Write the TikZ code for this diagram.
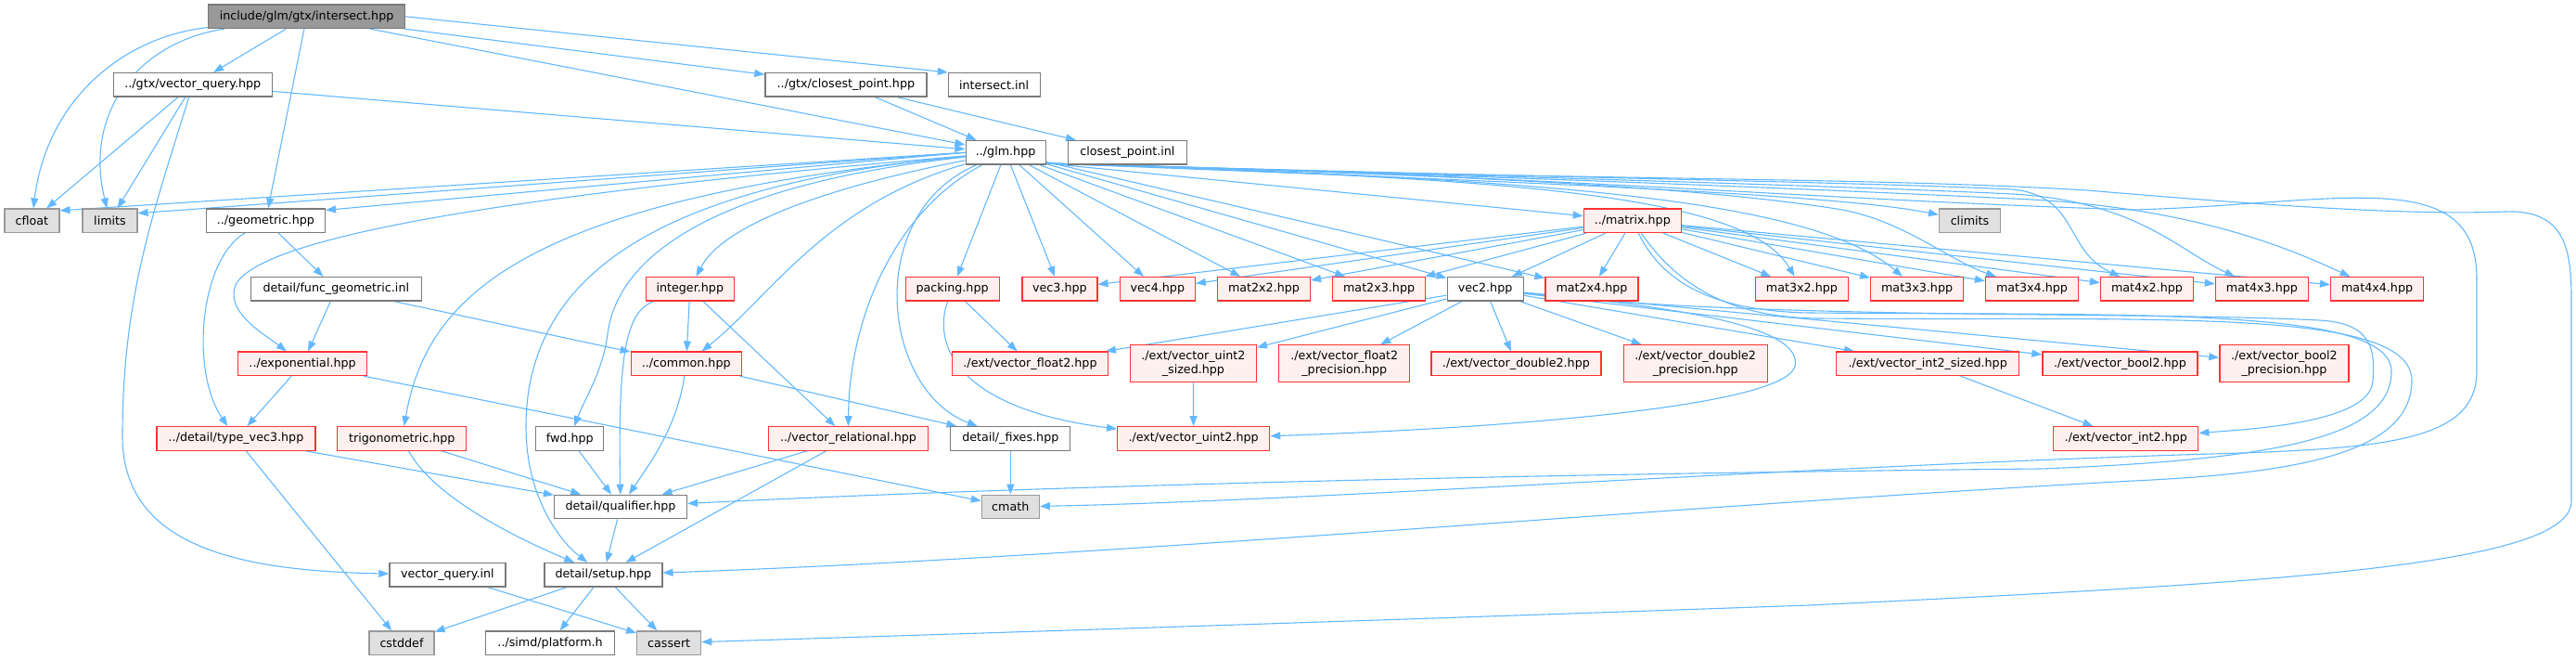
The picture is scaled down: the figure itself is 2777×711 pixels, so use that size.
\documentclass[tikz,border=0pt]{standalone}
\usepackage{fontspec}
\setmainfont{DejaVu Sans}
\usepackage{tikz}
\usetikzlibrary{arrows.meta, backgrounds}

\definecolor{edgeblue}{HTML}{63B8FF}
\definecolor{truncfill}{HTML}{FFF0F0}
\definecolor{truncline}{HTML}{FF3333}
\definecolor{sysfill}{HTML}{E0E0E0}
\definecolor{greyforty}{HTML}{7A7A7A}
\definecolor{greysixty}{HTML}{999999}

\begin{document}
\begin{tikzpicture}[
    x=1pt, y=-1pt,
    font=\fontsize{12.7pt}{15pt}\selectfont,
    filebox/.style={rectangle, draw=greyforty, fill=white, line width=1.2pt, inner sep=0pt, minimum height=25.5pt, align=center},
    truncbox/.style={filebox, draw=truncline, fill=truncfill},
    tallbox/.style={truncbox, minimum height=40pt},
    sysbox/.style={filebox, draw=greysixty, fill=sysfill},
    rootbox/.style={filebox, draw=greyforty, fill=greysixty},
    dep/.style={draw=edgeblue, line width=1.1pt, -{Triangle[length=11pt,width=8pt]}}
]
\useasboundingbox (0,0) rectangle (2777,711);

% =============================================================
% Files (rows from top to bottom)
% =============================================================
\node[rootbox, minimum width=212pt] (root) at (330.6,17.8) {include/glm/gtx/intersect.hpp};

\node[filebox, minimum width=171pt] (vq) at (207.8,91.3) {../gtx/vector\_query.hpp};
\node[filebox, minimum width=174pt] (cp) at (911.9,91.3) {../gtx/closest\_point.hpp};
\node[filebox, minimum width=99pt] (inl) at (1071.7,91.3) {intersect.inl};

\node[filebox, minimum width=86pt] (glm) at (1084.1,164.3) {../glm.hpp};
\node[filebox, minimum width=128pt] (cpinl) at (1215.4,164.3) {closest\_point.inl};

\node[sysbox, minimum width=59pt] (cfloat) at (34.4,237.8) {cfloat};
\node[sysbox, minimum width=59pt] (limits) at (118.5,237.8) {limits};
\node[filebox, minimum width=128pt] (geo) at (286.4,237.8) {../geometric.hpp};
\node[truncbox, minimum width=105pt] (matrix) at (1759.8,237.8) {../matrix.hpp};
\node[sysbox, minimum width=66pt] (climits) at (2123.5,237.8) {climits};

\node[filebox, minimum width=184pt] (fgeo) at (362.3,311.3) {detail/func\_geometric.inl};
\node[truncbox, minimum width=95pt] (integer) at (743.8,311.3) {integer.hpp};
\node[truncbox, minimum width=101pt] (packing) at (1026.6,311.3) {packing.hpp};
\node[truncbox, minimum width=81pt] (vec3) at (1142.4,311.3) {vec3.hpp};
\node[truncbox, minimum width=81pt] (vec4) at (1247.8,311.3) {vec4.hpp};
\node[filebox, minimum width=82pt] (vec2) at (1601.1,311.3) {vec2.hpp};
\foreach \n/\x in {2x2/1362.5, 2x3/1486.6, 2x4/1716, 3x2/1942.4, 3x3/2066.6, 3x4/2190.5, 4x2/2314.5, 4x3/2438.4, 4x4/2562.6}
  \node[truncbox, minimum width=100pt] (m\n) at (\x,311.3) {mat\n.hpp};

\node[truncbox, minimum width=139pt] (expo) at (326.1,391.8) {../exponential.hpp};
\node[truncbox, minimum width=119pt] (common) at (739.7,391.8) {../common.hpp};
\node[truncbox, minimum width=168pt] (vf2) at (1110.5,391.8) {./ext/vector\_float2.hpp};
\node[tallbox, minimum width=136pt] (vu2s) at (1286.4,391.8) {./ext/vector\_uint2\\\_sized.hpp};
\node[tallbox, minimum width=141pt] (vf2p) at (1449.3,391.8) {./ext/vector\_float2\\\_precision.hpp};
\node[truncbox, minimum width=183pt] (vd2) at (1634.4,391.8) {./ext/vector\_double2.hpp};
\node[tallbox, minimum width=155pt] (vd2p) at (1827.7,391.8) {./ext/vector\_double2\\\_precision.hpp};
\node[truncbox, minimum width=197pt] (vi2s) at (2078.2,391.8) {./ext/vector\_int2\_sized.hpp};
\node[truncbox, minimum width=167pt] (vb2) at (2285.4,391.8) {./ext/vector\_bool2.hpp};
\node[tallbox, minimum width=139pt] (vb2p) at (2462.4,391.8) {./ext/vector\_bool2\\\_precision.hpp};

\node[truncbox, minimum width=171pt] (tv3) at (254.5,472.5) {../detail/type\_vec3.hpp};
\node[truncbox, minimum width=139pt] (trig) at (433.3,472.5) {trigonometric.hpp};
\node[filebox, minimum width=73pt] (fwd) at (614.3,472.5) {fwd.hpp};
\node[truncbox, minimum width=172pt] (vrel) at (914.5,472.5) {../vector\_relational.hpp};
\node[filebox, minimum width=129pt] (fixes) at (1089.3,472.5) {detail/\_fixes.hpp};
\node[truncbox, minimum width=164pt] (vu2) at (1286.6,472.5) {./ext/vector\_uint2.hpp};
\node[truncbox, minimum width=156pt] (vi2) at (2291.8,472.5) {./ext/vector\_int2.hpp};

\node[filebox, minimum width=143pt] (qual) at (669,546) {detail/qualifier.hpp};
\node[sysbox, minimum width=62pt] (cmath) at (1089.3,546) {cmath};

\node[filebox, minimum width=125pt] (vqinl) at (482.4,619.3) {vector\_query.inl};
\node[filebox, minimum width=127pt] (setup) at (650.4,619.3) {detail/setup.hpp};

\node[sysbox, minimum width=70pt] (cstddef) at (433,692.7) {cstddef};
\node[filebox, minimum width=139pt] (platform) at (593.1,692.7) {../simd/platform.h};
\node[sysbox, minimum width=69pt] (cassert) at (721.2,692.7) {cassert};

% =============================================================
% Include edges
% =============================================================
\begin{scope}[on background layer]
% straight ones
\foreach \a/\b in {root/vq, root/geo, root/glm, root/cp, vq/cfloat, vq/limits, vq/glm,
    cp/glm, cp/cpinl, glm/packing, glm/vec3, glm/vec4, glm/m2x2, glm/m2x3, glm/vec2,
    glm/m2x4, matrix/vec2, matrix/vec3, matrix/vec4,
    geo/fgeo, fgeo/expo, fgeo/common, expo/tv3, expo/cmath, integer/common, integer/vrel,
    packing/vf2, common/fixes, vu2s/vu2, vi2s/vi2, tv3/qual, tv3/cstddef, trig/qual,
    fwd/qual, vrel/qual, vrel/setup, fixes/cmath, qual/setup, setup/cstddef,
    setup/platform, setup/cassert, vqinl/cassert}
  \draw[dep] (\a) -- (\b);
\foreach \n in {2x2, 2x3, 2x4, 3x2, 3x3, 3x4, 4x2, 4x3, 4x4}
  \draw[dep] (matrix) -- (m\n);
\foreach \b in {vf2, vu2s, vf2p, vd2, vd2p, vi2s, vb2, vb2p}
  \draw[dep] (vec2) -- (\b);

\draw[dep] (root.east) -- (inl.165);
\draw[dep] (glm.west) -- (cfloat.20);
\draw[dep] (glm.west) -- (limits.15);
\draw[dep] (glm.west) -- (geo.10);
\draw[dep] (glm.-15) -- (matrix);

% curved ones, left part
\draw[dep] (root) .. controls (130,40) and (50,110) .. (cfloat);
\draw[dep] (root) .. controls (150,45) and (90,120) .. (limits);
\draw[dep] (vq) .. controls (165,230) and (132,320) .. (132,470) .. controls (132,590) and (260,615) .. (vqinl);
\draw[dep] (glm) .. controls (600,205) and (290,250) .. (255,305) .. controls (240,335) and (285,360) .. (expo);
\draw[dep] (glm) .. controls (560,215) and (460,320) .. (trig);
\draw[dep] (glm) .. controls (700,200) and (590,300) .. (570,420) .. controls (555,520) and (600,580) .. (setup);
\draw[dep] (glm) .. controls (760,200) and (665,280) .. (655,360) .. controls (650,400) and (630,430) .. (fwd);
\draw[dep] (glm) .. controls (900,200) and (780,240) .. (integer);
\draw[dep] (glm) .. controls (890,220) and (830,320) .. (common);
\draw[dep] (glm) .. controls (960,230) and (915,350) .. (vrel);
\draw[dep] (glm) .. controls (930,230) and (950,420) .. (fixes);
\draw[dep] (geo) .. controls (215,280) and (205,400) .. (tv3);
\draw[dep] (integer) .. controls (675,335) and (666,380) .. (qual);
\draw[dep] (common) .. controls (730,460) and (700,500) .. (qual);
\draw[dep] (trig) .. controls (470,540) and (570,585) .. (setup);
\draw[dep] (packing) .. controls (1005,370) and (1030,440) .. (vu2);

% curved ones, right part
\draw[dep] (glm.-15) .. controls (1700,198) and (1980,210) .. (climits);
\draw[dep] (glm.-15) .. controls (1600,192) and (1880,205) .. (m3x2);
\draw[dep] (glm.-15) .. controls (1650,192) and (1950,212) .. (m3x3);
\draw[dep] (glm.-15) .. controls (1650,190) and (1850,205) .. (1980,225) .. controls (2050,236) and (2100,280) .. (m3x4);
\foreach \n/\x/\y in {4x2/2314.5/204, 4x3/2438.4/209, 4x4/2562.6/214}
  \draw[dep] (glm.-15) .. controls (1700,192) and (2000,\y-8) .. (2170,\y) .. controls ({0.5*(2170+\x)},\y+8) and ({\x-90},270) .. (m\n);
\draw[dep] (vec2) .. controls (1800,330) and (1945,350) .. (1935,395) .. controls (1920,440) and (1600,462) .. (vu2);
\draw[dep] (vec2) .. controls (1900,345) and (2300,335) .. (2500,345) .. controls (2560,348) and (2560,380) .. (2558,410) .. controls (2556,455) and (2430,462) .. (vi2);
\draw[dep] (matrix) .. controls (1790,300) and (1840,335) .. (1950,337) .. controls (2300,340) and (2578,330) .. (2578,400) .. controls (2578,470) and (2460,495) .. (2200,505) .. controls (1700,510) and (1150,522) .. (qual);
\draw[dep] (matrix) .. controls (1800,295) and (1850,342) .. (1960,343) .. controls (2320,346) and (2600,330) .. (2600,410) .. controls (2600,490) and (2470,510) .. (2300,518) .. controls (1800,545) and (1200,600) .. (setup);
\draw[dep] (glm.-15) .. controls (1700,190) and (1950,215) .. (2300,226) .. controls (2520,220) and (2670,175) .. (2670,300) -- (2670,400) .. controls (2670,480) and (2560,484) .. (2350,490) .. controls (1900,505) and (1400,540) .. (cmath);
\draw[dep] (glm.-15) .. controls (1700,195) and (2000,190) .. (2250,205) .. controls (2450,222) and (2600,232) .. (2700,228) .. controls (2760,226) and (2772,260) .. (2772,320) -- (2772,540) .. controls (2772,610) and (2450,628) .. (1950,652) .. controls (1500,668) and (1000,684) .. (cassert);
\end{scope}

\end{tikzpicture}
\end{document}
